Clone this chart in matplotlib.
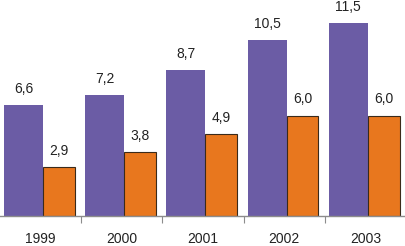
import matplotlib
matplotlib.use("Agg")
import matplotlib.pyplot as plt
import numpy as np

plt.rcParams["font.family"] = ["Liberation Sans", "DejaVu Sans"]

years = ["1999", "2000", "2001", "2002", "2003"]
purple_vals = [6.6, 7.2, 8.7, 10.5, 11.5]
orange_vals = [2.9, 3.8, 4.9, 6.0, 6.0]

PURPLE = "#6B5CA5"
ORANGE = "#E8771E"
GREY = "#8C8C8C"

fig = plt.figure(figsize=(4.06, 2.46), dpi=100)
ax = fig.add_axes((0, 1 - 216 / 246, 1, 216 / 246))

x = np.arange(len(years))
ax.bar(x - 0.45, purple_vals, width=0.48, align="edge", color=PURPLE, zorder=2)
ax.bar(x + 0.03, orange_vals, width=0.39, align="edge", color=ORANGE,
       edgecolor="#3A2A1A", linewidth=0.8, zorder=2)

fmt = lambda v: f"{v:.1f}".replace(".", ",")
for xi, v in zip(x, purple_vals):
    ax.text(xi - 0.21, v + 0.55, fmt(v), ha="center", va="bottom", fontsize=10, color="#222222")
for xi, v in zip(x, orange_vals):
    ax.text(xi + 0.225, v + 0.55, fmt(v), ha="center", va="bottom", fontsize=10, color="#222222")

ax.set_xlim(-0.5, len(years) - 0.5)
ax.set_ylim(0, 12.9)
for s in ("left", "right", "top"):
    ax.spines[s].set_visible(False)
ax.spines["bottom"].set_color(GREY)
ax.spines["bottom"].set_linewidth(1.0)
ax.set_yticks([])
ax.set_xticks(x[:-1] + 0.5)
ax.set_xticklabels([])
ax.tick_params(axis="x", length=5, color=GREY, direction="out")
for xi, lab in zip(x, years):
    ax.text(xi, -0.95, lab, ha="center", va="top", fontsize=10, color="#222222")

fig.savefig("out.png", dpi=100)
